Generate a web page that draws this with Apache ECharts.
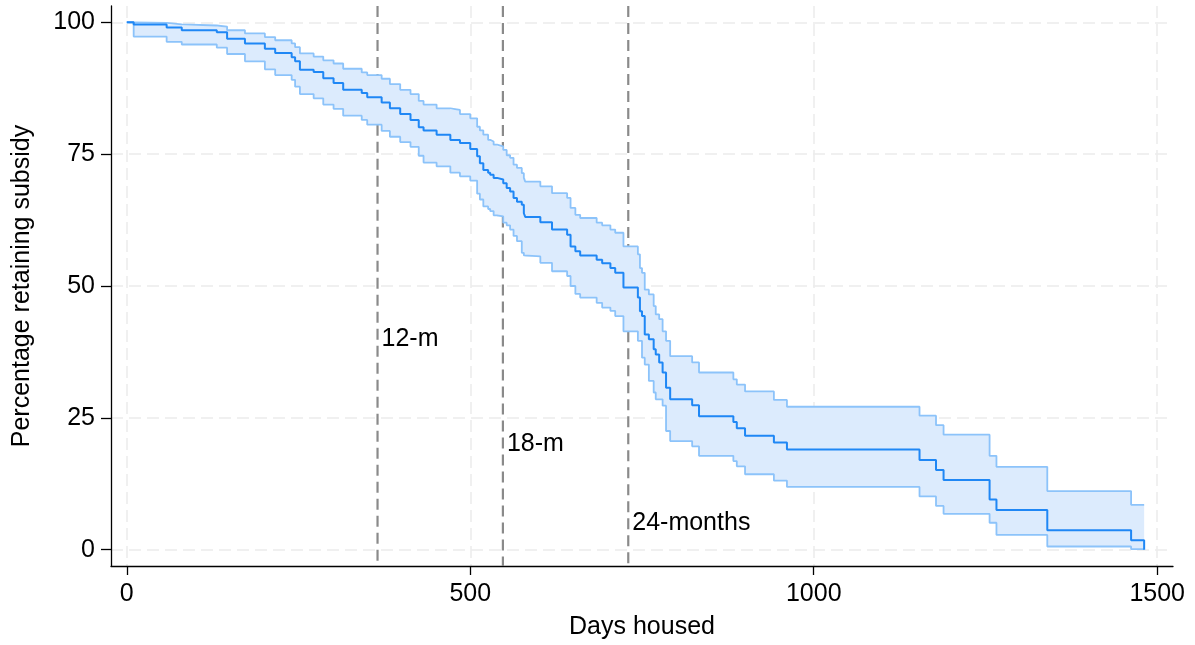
<!DOCTYPE html>
<html><head><meta charset="utf-8">
<script src="https://cdn.jsdelivr.net/npm/echarts@6/dist/echarts.min.js"></script>
<style>html,body{margin:0;padding:0;background:#fff}#c{width:1195px;height:645px}</style>
</head><body><div id="c"></div>
<script>
// Kaplan-Meier estimate: step times (days housed) and values (%)
const days = [0,10,58,80,131,146,172,201,216,240,245,252,272,286,301,315,342,350,371,383,398,413,425,432,451,471,485,500,510,514,519,526,529,534,539,548,553,558,563,568,575,578,580,602,619,641,646,653,660,684,692,704,711,723,744,747,750,754,760,767,770,775,780,785,791,823,833,883,888,900,942,961,1154,1178,1189,1256,1266,1340,1462,1481];
const survival = [100,99.6,99.0,98.5,98.1,96.9,96.0,95.0,94.2,93.4,92.6,91.0,90.6,89.4,88.5,87.2,86.6,85.8,84.8,83.7,82.6,81.5,80.1,79.5,78.7,77.7,77.1,76.0,74.6,73.3,72.0,71.5,71.1,70.5,70.2,69.5,68.6,67.9,66.7,66.0,65.4,63.8,63.1,62.1,60.7,59.7,57.5,56.6,55.8,55.0,54.3,53.4,52.5,49.7,47.8,45.2,44.3,40.8,39.9,38.0,37.0,35.5,33.6,30.7,28.5,27.4,25.3,24.2,23.0,21.6,20.3,19.0,17.0,15.1,13.2,9.5,7.5,3.7,1.8,0];
const upperCI = [100,99.9,99.6,99.4,99.2,98.5,97.9,97.2,96.6,96.0,95.3,94.1,93.5,92.8,92.2,91.2,90.5,90.0,89.3,88.3,87.2,86.4,85.1,84.4,83.7,83.4,82.6,81.8,80.2,79.5,78.7,77.7,77.4,76.8,76.5,75.8,74.8,74.3,73.0,72.4,71.4,70.5,69.8,68.9,67.6,66.7,64.8,63.5,62.9,62.0,61.5,60.7,60.1,57.5,56.0,53.4,52.5,49.3,48.4,46.2,44.6,43.7,41.4,39.6,36.7,35.5,33.6,32.3,31.3,30.0,28.4,27.1,25.4,23.6,21.8,17.8,15.7,11.1,8.5,8.5];
const lowerCI = [100,97.3,96.3,95.8,95.2,94.0,92.6,91.1,90.0,89.1,87.8,86.4,85.6,84.4,83.6,82.3,81.5,80.6,79.4,78.3,77.3,76.4,74.7,73.4,72.7,71.5,70.8,70.0,67.5,66.4,65.1,64.6,64.2,63.4,63.2,62.0,61.5,60.7,59.5,58.5,56.3,55.8,55.6,54.4,52.8,51.9,50.0,48.5,47.8,46.8,45.9,45.3,44.3,41.4,39.6,39.6,36.4,35.1,32.0,29.8,28.5,28.5,27.3,22.5,20.6,19.6,17.8,16.8,15.8,14.3,13.1,11.9,10.1,8.3,6.8,5.1,2.8,0.6,0.1,0.1];
const xTicks = [0, 500, 1000, 1500];
const yTicks = [0, 25, 50, 75, 100];
const refDays = [365, 547.5, 730];
const refLabels = ['12-m', '18-m', '24-months'];
const refLabelY = [40, 20, 5];

const FONT = 'Liberation Sans';
const FS = 25;
const mainColor = '#1f87f5';
const ciColor = '#8cc3fa';
const fillColor = 'rgb(220,235,253)';

const lowerData = days.map((d, i) => [d, lowerCI[i]]);
const upperData = days.map((d, i) => [d, upperCI[i]]);
const mainData = days.map((d, i) => [d, survival[i]]);
const bandData = days.map((d, i) => [d, lowerCI[i], upperCI[i]]);
const refData = refDays.map((d, i) => [d, refLabelY[i]]);

const gridLine = { show: true, lineStyle: { color: '#ebebeb', width: 1.5, type: [12, 6] } };

// step-function lookup of a CI array at a given day
function stepAt(arr, d) {
  let k = 0;
  for (let i = 0; i < days.length; i++) if (days[i] <= d) k = i;
  return arr[k];
}

function renderBand(params, api) {
  if (params.dataIndex !== 0) return null;
  const pts = [];
  for (let i = 0; i < days.length; i++) {
    if (i > 0) pts.push(api.coord([days[i], upperCI[i - 1]]));
    pts.push(api.coord([days[i], upperCI[i]]));
  }
  for (let i = days.length - 1; i >= 0; i--) {
    pts.push(api.coord([days[i], lowerCI[i]]));
    if (i > 0) pts.push(api.coord([days[i], lowerCI[i - 1]]));
  }
  return { type: 'polygon', shape: { points: pts }, style: { fill: fillColor, stroke: null } };
}

// dashed reference line, drawn only outside the (opaque) confidence band
function renderRefLine(params, api) {
  const cs = params.coordSys;
  const d = api.value(0);
  const top = api.coord([d, stepAt(upperCI, d)]);
  const bot = api.coord([d, stepAt(lowerCI, d)]);
  const st = { stroke: '#8a8a8a', lineWidth: 2.2, lineDash: [11, 6], fill: null };
  return {
    type: 'group', children: [
      { type: 'line', shape: { x1: top[0], y1: cs.y, x2: top[0], y2: top[1] }, style: st },
      { type: 'line', shape: { x1: bot[0], y1: bot[1], x2: bot[0], y2: cs.y + cs.height }, style: st }
    ]
  };
}

function renderRefText(params, api) {
  const p = api.coord([api.value(0), api.value(1)]);
  return {
    type: 'text', x: p[0] + 4, y: p[1],
    style: { text: refLabels[params.dataIndex], fill: '#000', fontSize: FS, fontFamily: FONT, align: 'left', verticalAlign: 'middle' }
  };
}

const chart = echarts.init(document.getElementById('c'), null, { renderer: 'canvas' });
chart.setOption({
  animation: false,
  backgroundColor: '#fff',
  textStyle: { fontFamily: FONT },
  grid: { left: 111, right: 22, top: 6, bottom: 78, containLabel: false },
  xAxis: {
    type: 'value', min: -23, max: 1523,
    name: 'Days housed', nameLocation: 'middle', nameGap: 49,
    nameTextStyle: { fontFamily: FONT, fontSize: FS, color: '#000' },
    axisLine: { onZero: false, lineStyle: { color: '#000', width: 1.3 } },
    axisTick: { show: true, inside: false, length: 9, customValues: xTicks, lineStyle: { color: '#000', width: 1.3 } },
    axisLabel: { customValues: xTicks, formatter: v => String(v), fontFamily: FONT, fontSize: FS, color: '#000', margin: 16 },
    splitLine: gridLine
  },
  yAxis: {
    type: 'value', min: -3.1, max: 103.1,
    name: 'Percentage retaining subsidy', nameLocation: 'middle', nameGap: 76, nameRotate: 90,
    nameTextStyle: { fontFamily: FONT, fontSize: FS, color: '#000' },
    axisLine: { show: true, onZero: false, lineStyle: { color: '#000', width: 1.3 } },
    axisTick: { show: true, inside: false, length: 10, customValues: yTicks, lineStyle: { color: '#000', width: 1.3 } },
    axisLabel: { customValues: yTicks, formatter: v => String(v), fontFamily: FONT, fontSize: FS, color: '#000', margin: 16 },
    splitLine: gridLine
  },
  series: [
    {
      name: 'band', type: 'custom', data: bandData, encode: { x: 0, y: [1, 2] },
      renderItem: renderBand, z: 2, silent: true
    },
    {
      name: 'refs', type: 'custom', data: refData, encode: { x: 0, y: 1 },
      renderItem: renderRefLine, z: 2, silent: true
    },
    {
      name: 'lower', type: 'line', step: 'end', data: lowerData,
      symbol: 'none', z: 4,
      lineStyle: { color: ciColor, width: 1.8 }
    },
    {
      name: 'upper', type: 'line', step: 'end', data: upperData,
      symbol: 'none', z: 4,
      lineStyle: { color: ciColor, width: 1.8 }
    },
    {
      name: 'survival', type: 'line', step: 'end', data: mainData,
      symbol: 'none', z: 5,
      lineStyle: { color: mainColor, width: 2 }
    },
    {
      name: 'labels', type: 'custom', data: refData, encode: { x: 0, y: 1 },
      renderItem: renderRefText, z: 6, silent: true
    }
  ]
});
</script>
</body></html>
